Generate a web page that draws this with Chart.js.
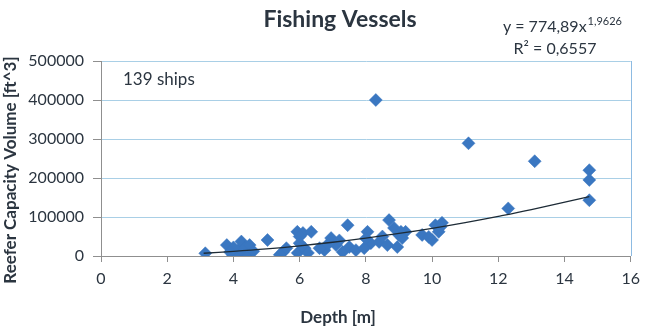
<!DOCTYPE html>
<html>
<head>
<meta charset="utf-8">
<script src="https://cdn.jsdelivr.net/npm/chart.js@4.4.1/dist/chart.umd.min.js"></script>
<style>
  html, body { margin: 0; padding: 0; background: #ffffff; }
  #wrap { position: relative; width: 647px; height: 331px; }
</style>
</head>
<body>
<div id="wrap"><canvas id="c" width="647" height="331"></canvas></div>
<script>
// ---- data ----
const chartTitle = "Fishing Vessels";
const xAxisTitle = "Depth [m]";
const yAxisTitle = "Reefer Capacity Volume [ft^3]";
const annotationText = "139 ships";
const equationMain = "y = 774,89x";
const equationExp = "1,9626";
const rSquaredText = "R² = 0,6557";

const depth = [
  3.15, 3.8, 3.95, 3.98, 4.1, 4.2, 4.24, 4.3, 4.34, 4.45, 4.49, 4.0, 3.9, 4.6,
  5.03, 5.4, 5.5, 5.6, 5.93, 6.0, 5.94, 6.1, 6.35, 6.15, 6.25, 6.0,
  6.75, 6.95, 7.1, 7.3, 7.45, 7.5, 7.7, 6.85, 7.2, 6.6,
  8.05, 8.15, 7.95, 8.4, 8.7, 8.85, 9.0, 8.95, 9.2, 8.65, 9.06, 9.1, 8.0, 8.5,
  9.7, 9.9, 10.1, 10.3, 10.0, 10.26, 10.2,
  8.3, 11.1, 13.1, 12.3, 14.75, 14.75, 14.75
];
const volume = [
  7000, 28000, 15000, 3000, 1000, 20000, 37000, 10000, 20000, 2000, 28000, 22000, 10000, 12000,
  41000, 3000, 10000, 20000, 62000, 33000, 8000, 59000, 62000, 20000, 8000, 50000,
  15000, 46000, 28000, 10000, 79000, 23000, 15000, 30000, 40000, 20000,
  62000, 33000, 20000, 36000, 92000, 72000, 54000, 23000, 62000, 28000, 62000, 46000, 45000, 50000,
  54000, 49000, 79000, 85000, 41000, 75000, 62000,
  400000, 289000, 243000, 122000, 220000, 195000, 143000
];

// power trendline as drawn in the reference
const trendX = [3.1, 4, 5, 6, 7, 8, 9, 10, 11, 12, 13, 14.75];
const trendY = [7100, 11800, 18200, 26100, 35300, 45900, 57800, 71100, 85700, 101700, 119000, 152500];

const xTicks = [0, 2, 4, 6, 8, 10, 12, 14, 16];
const yTicks = [0, 100000, 200000, 300000, 400000, 500000];

// ---- styles ----
const FONT = "Lato, 'Open Sans', 'Liberation Sans', sans-serif";
const TEXT = "#2b3540";
const GRID = "#a9cfe6";
const FRAME = "#8dbbe2";
const AXIS = "#8f8f8f";
const MARK = "#3a77c1";

const points = depth.map((d, i) => ({ x: d, y: volume[i] }));
const trend = trendX.map((d, i) => ({ x: d, y: trendY[i] }));

const textPlugin = {
  id: 'texts',
  afterDraw(chart) {
    const ctx = chart.ctx;
    const area = chart.chartArea;
    ctx.save();
    // right frame
    ctx.strokeStyle = FRAME;
    ctx.lineWidth = 1;
    ctx.beginPath();
    ctx.moveTo(Math.round(area.right) + 0.5, area.top);
    ctx.lineTo(Math.round(area.right) + 0.5, area.bottom);
    ctx.stroke();

    ctx.fillStyle = TEXT;
    ctx.textBaseline = 'middle';
    // chart title
    ctx.font = "bold 23px " + FONT;
    ctx.textAlign = 'center';
    ctx.fillText(chartTitle, 340, 20);
    // x axis title
    ctx.font = "bold 17px " + FONT;
    ctx.fillText(xAxisTitle, 338, 318);
    // y axis title
    ctx.save();
    ctx.translate(11, 170);
    ctx.rotate(-Math.PI / 2);
    ctx.font = "bold 17px " + FONT;
    ctx.fillText(yAxisTitle, 0, 0);
    ctx.restore();
    // annotation
    ctx.font = "17px " + FONT;
    ctx.textAlign = 'left';
    ctx.fillText(annotationText, 123, 80);
    // equation
    ctx.font = "16px " + FONT;
    const mw = ctx.measureText(equationMain).width;
    ctx.font = "11px " + FONT;
    const ew = ctx.measureText(equationExp).width;
    const eqRight = 622;
    const eqLeft = eqRight - mw - ew - 1;
    ctx.font = "16px " + FONT;
    ctx.fillText(equationMain, eqLeft, 27);
    ctx.font = "11px " + FONT;
    ctx.fillText(equationExp, eqLeft + mw + 1, 21);
    ctx.font = "16px " + FONT;
    ctx.textAlign = 'center';
    ctx.fillText(rSquaredText, 555, 49);
    ctx.restore();
  }
};

new Chart(document.getElementById('c'), {
  type: 'scatter',
  data: {
    datasets: [
      {
        label: 'Ships',
        data: points,
        pointStyle: 'rectRot',
        pointRadius: 6.5,
        pointBackgroundColor: MARK,
        pointBorderColor: MARK,
        pointBorderWidth: 0.5,
        order: 2
      },
      {
        label: 'Trend',
        type: 'line',
        data: trend,
        showLine: true,
        borderColor: '#1d2b36',
        borderWidth: 1.3,
        pointRadius: 0,
        tension: 0.4,
        fill: false,
        order: 1
      }
    ]
  },
  options: {
    responsive: false,
    animation: false,
    devicePixelRatio: 1,
    layout: { padding: { top: 61, right: 15, bottom: 0, left: 0 } },
    plugins: {
      legend: { display: false },
      title: { display: false },
      tooltip: { enabled: false }
    },
    scales: {
      x: {
        type: 'linear',
        min: 0, max: 16,
        afterFit(scale) { scale.height = 75; },
        afterBuildTicks(scale) { scale.ticks = xTicks.map(v => ({ value: v })); },
        grid: { drawOnChartArea: false, tickLength: 6, tickColor: AXIS, color: AXIS },
        border: { color: AXIS, width: 1 },
        ticks: { color: TEXT, font: { family: FONT, size: 16 }, padding: 7, maxRotation: 0 }
      },
      y: {
        type: 'linear',
        min: 0, max: 500000,
        afterFit(scale) { scale.width = 101; },
        afterBuildTicks(scale) { scale.ticks = yTicks.map(v => ({ value: v })); },
        grid: { color: GRID, tickLength: 8, tickColor: AXIS },
        border: { color: AXIS, width: 1 },
        ticks: { color: TEXT, font: { family: FONT, size: 16 }, padding: 9,
                 callback: v => String(v) }
      }
    }
  },
  plugins: [textPlugin]
});
</script>
</body>
</html>
